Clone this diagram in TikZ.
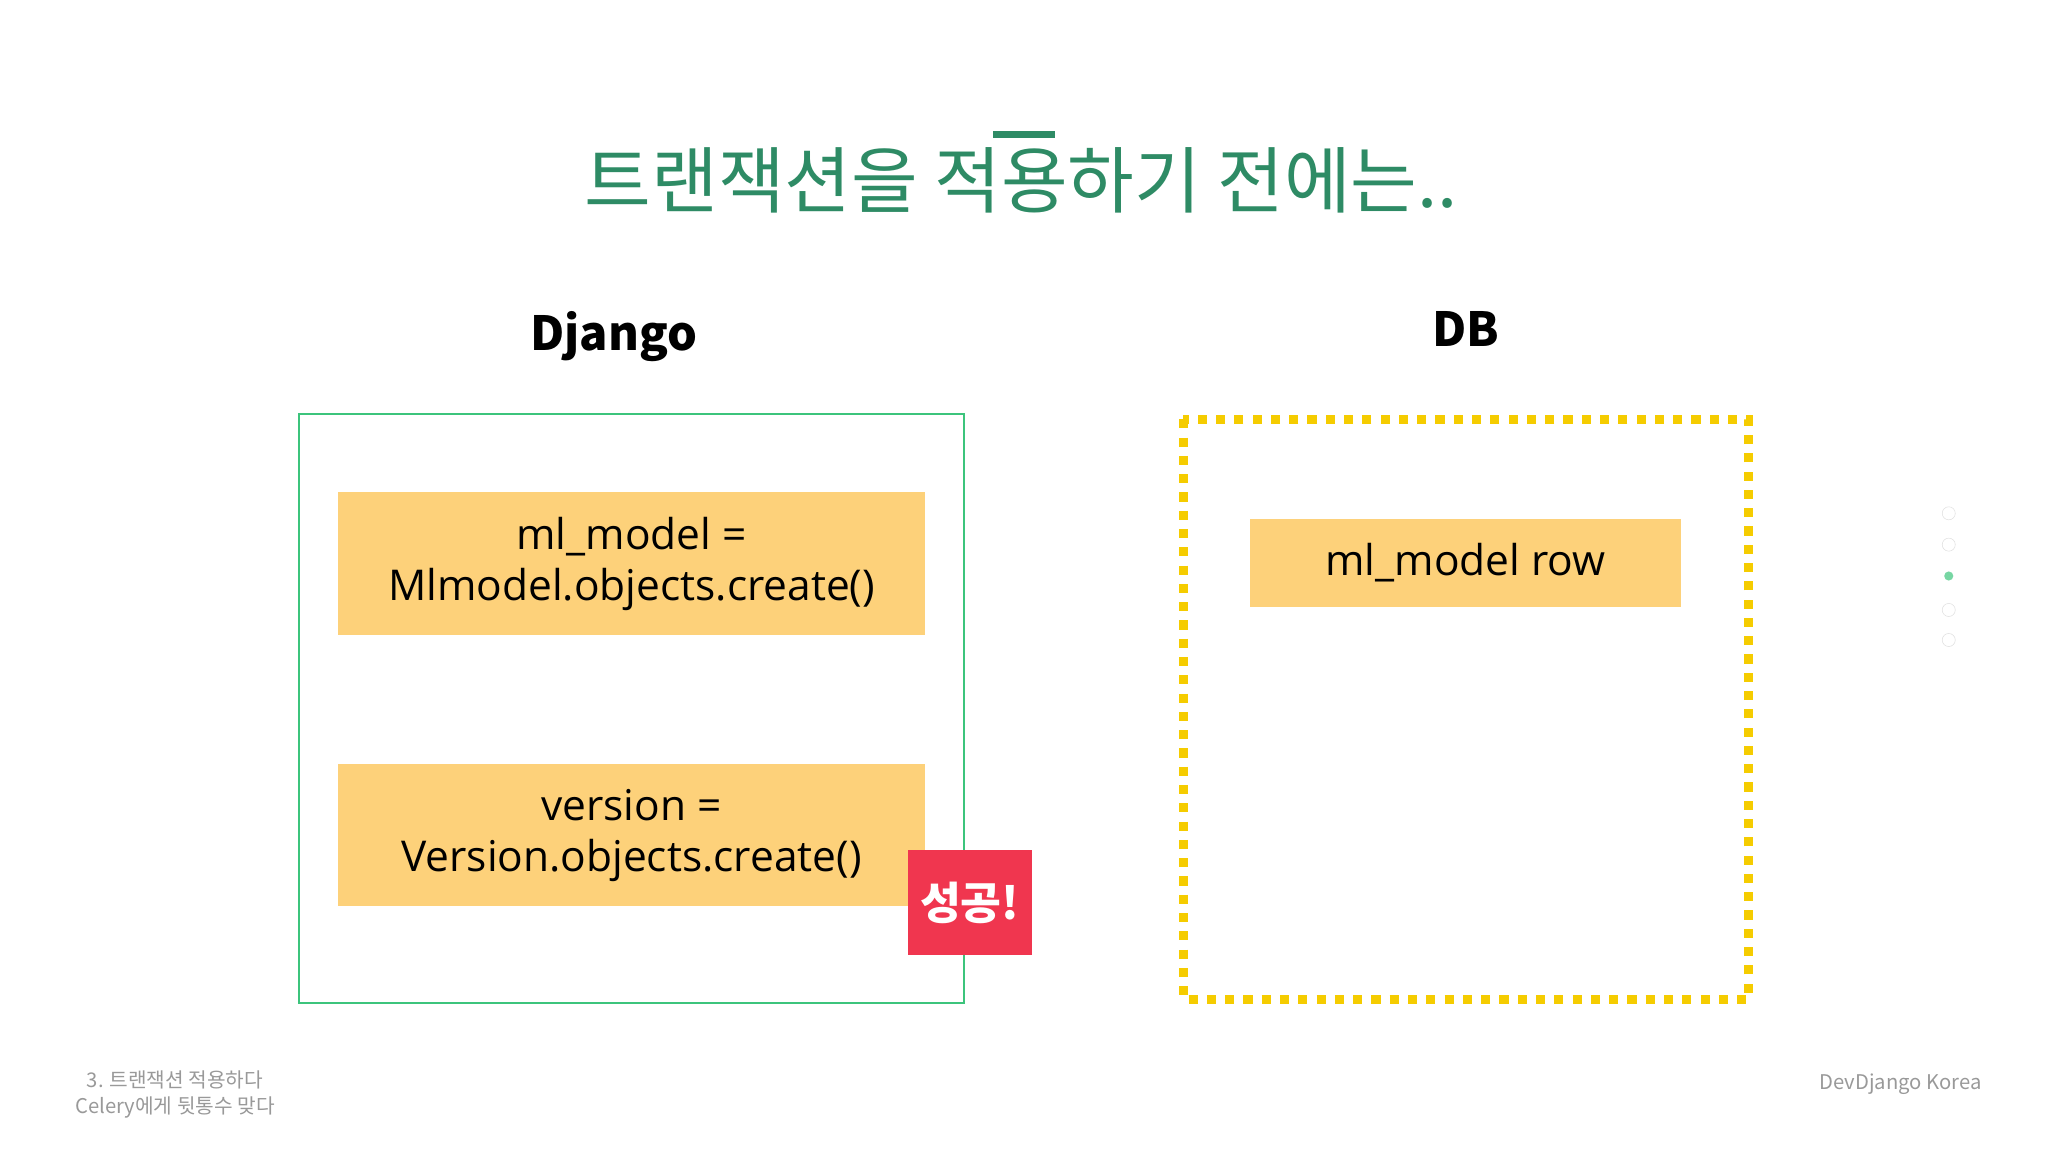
\documentclass[tikz,border=0pt]{standalone}
\usepackage{fontspec}
\setmainfont{Noto Sans CJK KR}
\newfontfamily\latinf{Open Sans}
\definecolor{tgreen}{HTML}{2E8B65}
\definecolor{bgreen}{HTML}{3CC47C}
\definecolor{byel}{HTML}{FDD17A}
\definecolor{dyel}{HTML}{F5CC00}
\definecolor{bred}{HTML}{F0364F}
\begin{document}
\begin{tikzpicture}[x=1pt,y=-1pt,
  ybox/.style={fill=byel,draw=none,align=center,font=\latinf\fontsize{32.5}{39}\selectfont},
  hand/.style={font=\bfseries\fontsize{36}{40}\selectfont},
  gray/.style={text=gray!80,font=\fontsize{15.5}{20}\selectfont,align=center}]
\useasboundingbox (0,0) rectangle (1568,882);
\node[text=tgreen,font=\fontsize{55.5}{62}\selectfont] (title) at (782,138) {트랜잭션을 적용하기 전에는..};
\fill[tgreen] (760,100) rectangle (808,106);
\node[hand] (dj) at (470,258) {Django};
\node[hand] (db) at (1122,252) {DB};
\draw[bgreen,line width=1.5pt] (229,317) rectangle (738,768);
\node[ybox,minimum width=449pt,minimum height=109pt] (b1) at (483.5,431.5) {ml\_model =\\Mlmodel.objects.create()};
\node[ybox,minimum width=449pt,minimum height=109pt] (b2) at (483.5,639.5) {version =\\Version.objects.create()};
\node[fill=bred,text=white,minimum width=95pt,minimum height=80pt,font=\bfseries\fontsize{34}{38}\selectfont] (ok) at (742.5,691) {성공!};
\draw[dyel,line width=7pt,dash pattern=on 7pt off 7pt] (906,321) rectangle (1339,765);
\node[ybox,minimum width=330pt,minimum height=68pt] (row) at (1122,431) {ml\_model row};
\foreach \yy in {393,417,467,490} \draw[gray!25,fill=white] (1492,\yy) circle (5);
\fill[bgreen!70] (1492,441) circle (3.5);
\node[gray] (foot) at (134,838) {3. 트랜잭션 적용하다\\Celery에게 뒷통수 맞다};
\node[gray] (brand) at (1455,830) {DevDjango Korea};
\end{tikzpicture}
\end{document}
